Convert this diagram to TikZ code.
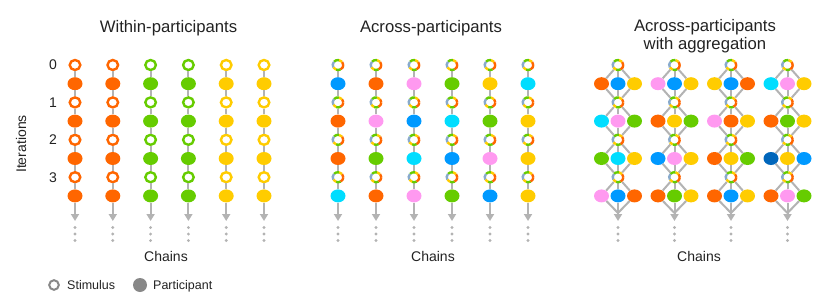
\documentclass[tikz,border=0pt]{standalone}
\usepackage{fontspec}
\setmainfont{Liberation Sans}
\usetikzlibrary{shapes.geometric, arrows.meta}
\definecolor{corange}{HTML}{FF6600}
\definecolor{cgreen}{HTML}{66CC00}
\definecolor{cyellow}{HTML}{FFCC00}
\definecolor{cblue}{HTML}{0099FF}
\definecolor{ccyan}{HTML}{00DDFF}
\definecolor{cpink}{HTML}{FF99F0}
\definecolor{cdark}{HTML}{0066BB}
\definecolor{ringblue}{HTML}{88AACC}
\definecolor{linkgray}{HTML}{B3B3B3}
\definecolor{keygray}{HTML}{888888}
\definecolor{ink}{HTML}{222222}
\newcommand\mixring[1]{%
  \foreach \a/\b/\rc in {0/40/corange, 40/80/cyellow, 80/140/cgreen, 140/210/ringblue, 210/250/cyellow, 250/300/cgreen, 300/360/corange}
    \draw[\rc, line width=2.4pt] ([shift={(\a:5.3pt and 5pt)}]#1.center) arc[start angle=\a, end angle=\b, x radius=5.3pt, y radius=5pt];
}

\begin{document}
\begin{tikzpicture}[x=1pt, y=-1pt, font=\fontsize{14}{17}\selectfont, text=ink,
  stim/.style={ellipse, minimum width=10.6pt, minimum height=10pt, inner sep=0pt, line width=2.4pt, fill=white},
  part/.style={ellipse, minimum width=15pt, minimum height=13pt, inner sep=0pt},
  linkline/.style={draw=linkgray, line width=2pt},
  endarrow/.style={linkline, -{Triangle[length=7pt, width=8pt]}},
  paneltitle/.style={font=\fontsize{16.7}{18.5}\selectfont}]
\useasboundingbox (0,0) rectangle (830,297);

\node[paneltitle, anchor=base] (wtitle) at (168.5,32) {Within-participants};
\node[paneltitle, anchor=base] (mtitle) at (431,32) {Across-participants};
\node[paneltitle, align=center] (atitle) at (705,36) {Across-participants\\with aggregation};
\node[anchor=base] (wchains) at (166,261) {Chains};
\node[anchor=base] (mchains) at (433,261) {Chains};
\node[anchor=base] (achains) at (699,261) {Chains};
\foreach \i in {0,...,3} \node (it\i) at (53,65+37.4*\i) {\i};
\node[rotate=90] (itlabel) at (21,144) {Iterations};

% within-participants
\foreach \c/\col in {1/corange, 2/corange, 3/cgreen, 4/cgreen, 5/cyellow, 6/cyellow} {
  \pgfmathsetmacro\x{75+37.8*(\c-1)}
  \foreach \i in {0,...,3} {
    \node[stim, draw=\col] (w\c-s\i) at (\x,65+37.4*\i) {};
    \node[part, fill=\col] (w\c-p\i) at (\x,83.7+37.4*\i) {};
  }
  \coordinate (w\c-end) at (\x,221);
  \foreach \i [evaluate=\i as \j using int(\i+1)] in {0,1,2}
    \draw[linkline] (w\c-s\i) -- (w\c-p\i) -- (w\c-s\j);
  \draw[linkline] (w\c-s3) -- (w\c-p3);
  \draw[endarrow] (w\c-p3) -- (w\c-end);
  \foreach \d in {227.5,234,240.5} \fill[linkgray] (\x,\d) circle (1.6pt);
}

% across-participants
\foreach \c/\ca/\cb/\cc/\cd in {1/cblue/corange/corange/ccyan, 2/corange/cpink/cgreen/corange, 3/cpink/cblue/ccyan/cpink, 4/cgreen/ccyan/cblue/cgreen, 5/cyellow/cgreen/cpink/cblue, 6/ccyan/cyellow/cyellow/cyellow} {
  \pgfmathsetmacro\x{338+38*(\c-1)}
  \foreach \i/\col in {0/\ca, 1/\cb, 2/\cc, 3/\cd} {
    \node[stim, draw=none] (m\c-s\i) at (\x,65+37.4*\i) {};
    \node[part, fill=\col] (m\c-p\i) at (\x,83.7+37.4*\i) {};
  }
  \coordinate (m\c-end) at (\x,221);
  \foreach \i [evaluate=\i as \j using int(\i+1)] in {0,1,2}
    \draw[linkline] (m\c-s\i) -- (m\c-p\i) -- (m\c-s\j);
  \draw[linkline] (m\c-s3) -- (m\c-p3);
  \draw[endarrow] (m\c-p3) -- (m\c-end);
  \foreach \d in {227.5,234,240.5} \fill[linkgray] (\x,\d) circle (1.6pt);
  \foreach \i in {0,...,3} \mixring{m\c-s\i};
}

% across-participants with aggregation
\foreach \g in {1,...,4} {
  \pgfmathsetmacro\x{618+56.5*(\g-1)}
  \foreach \i in {0,...,3} \node[stim, draw=none] (a\g-s\i) at (\x,65+37.4*\i) {};
  \coordinate (a\g-join) at (\x,213);
  \coordinate (a\g-end) at (\x,221);
}
\foreach \g/\i/\ca/\cb/\cc in {1/0/corange/cblue/cyellow, 1/1/ccyan/cpink/cgreen, 1/2/cgreen/ccyan/cyellow, 1/3/cpink/cblue/corange,
    2/0/cpink/cblue/cyellow, 2/1/corange/cyellow/cgreen, 2/2/cblue/cpink/cyellow, 2/3/corange/cgreen/cyellow,
    3/0/cyellow/cblue/corange, 3/1/cpink/corange/cyellow, 3/2/corange/cyellow/cgreen, 3/3/corange/cblue/cyellow,
    4/0/ccyan/cpink/cyellow, 4/1/corange/cgreen/cyellow, 4/2/cdark/cyellow/cblue, 4/3/corange/cpink/cgreen} {
  \pgfmathsetmacro\x{618+56.5*(\g-1)}
  \pgfmathsetmacro\y{83.7+37.4*\i}
  \node[part, fill=\ca] (a\g-l\i) at (\x-16.5,\y) {};
  \node[part, fill=\cb] (a\g-c\i) at (\x,\y) {};
  \node[part, fill=\cc] (a\g-r\i) at (\x+16.5,\y) {};
}
\foreach \g in {1,...,4} {
  \pgfmathsetmacro\x{618+56.5*(\g-1)}
  \foreach \i [evaluate=\i as \j using int(\i+1)] in {0,1,2}
    \foreach \k in {l,c,r} \draw[linkline] (a\g-s\i) -- (a\g-\k\i) -- (a\g-s\j);
  \foreach \k in {l,r} \draw[linkline] (a\g-s3) -- (a\g-\k3) -- (a\g-join);
  \draw[linkline] (a\g-s3) -- (a\g-c3);
  \draw[endarrow] (a\g-c3) -- (a\g-end);
  \foreach \d in {227.5,234,240.5} \fill[linkgray] (\x,\d) circle (1.6pt);
  \foreach \i in {0,...,3} \mixring{a\g-s\i};
}

% legend
\node[stim, draw=keygray, minimum width=9.6pt, minimum height=9.6pt, line width=2pt] (keystim) at (54,285) {};
\node[anchor=base west, inner sep=0pt, font=\fontsize{12.5}{15}\selectfont] (keystimtxt) at (67,289.5) {Stimulus};
\node[part, fill=keygray, minimum width=14pt, minimum height=14pt] (keypart) at (140,285) {};
\node[anchor=base west, inner sep=0pt, font=\fontsize{12.5}{15}\selectfont] (keyparttxt) at (153,289.5) {Participant};
\end{tikzpicture}
\end{document}
